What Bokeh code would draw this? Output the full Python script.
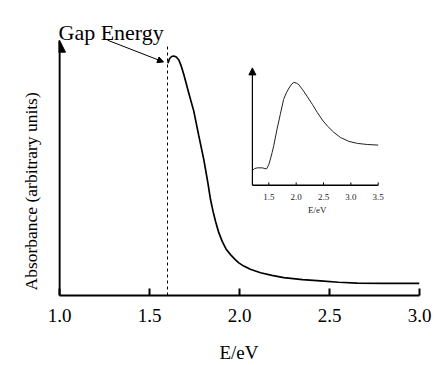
from bokeh.plotting import figure
from bokeh.models import Range1d, Arrow, NormalHead, FixedTicker, Title
from bokeh.core.properties import value
from bokeh.embed import file_html
from bokeh.resources import INLINE

# ---- data ----
main_energy = [1.602, 1.612, 1.623, 1.635, 1.649, 1.663, 1.677, 1.691, 1.718, 1.746,
               1.774, 1.802, 1.825, 1.839, 1.853, 1.867, 1.885, 1.904, 1.925, 1.950,
               1.975, 1.996, 2.024, 2.060, 2.117, 2.180, 2.246, 2.350, 2.450, 2.550,
               2.654, 2.800, 3.000]
main_absorbance = [234.7, 239.5, 241.5, 242.0, 241.0, 238.0, 231.5, 223.0, 204.7, 186.3,
                   161.3, 137.0, 113.0, 97.0, 85.0, 74.7, 63.5, 54.7, 47.0, 41.3,
                   36.5, 33.0, 29.7, 26.5, 23.0, 20.3, 18.0, 16.0, 14.7, 13.4,
                   12.6, 12.3, 12.3]

inset_energy = [1.20, 1.24, 1.29, 1.38, 1.43, 1.46, 1.50, 1.53, 1.56, 1.59,
                1.65, 1.71, 1.77, 1.82, 1.87, 1.92, 1.96, 2.00, 2.05, 2.12,
                2.20, 2.30, 2.39, 2.48, 2.57, 2.69, 2.81, 2.96, 3.12, 3.30, 3.50]
inset_absorbance = [15.0, 17.0, 17.7, 17.7, 17.0, 16.7, 21.0, 26.7, 33.0, 40.0,
                    56.7, 71.7, 86.7, 93.5, 98.4, 102.5, 104.0, 103.5, 101.7, 96.5,
                    90.0, 81.5, 73.4, 66.0, 60.0, 53.5, 48.4, 44.5, 42.4, 41.3, 40.7]

main_ticks = [1.0, 1.5, 2.0, 2.5, 3.0]
main_tick_labels = ["1.0", "1.5", "2.0", "2.5", "3.0"]
inset_ticks = [1.5, 2.0, 2.5, 3.0, 3.5]
inset_tick_labels = ["1.5", "2.0", "2.5", "3.0", "3.5"]
gap_energy = 1.6

FONT = "'Liberation Serif', 'Times New Roman', serif"

p = figure(width=435, height=365,
           x_range=Range1d(1.0 - 1.0 / 180, 3.0), y_range=Range1d(0, 288),
           output_backend="svg", toolbar_location=None,
           min_border_left=58, min_border_right=16,
           min_border_top=10, min_border_bottom=67)
p.grid.visible = False
p.outline_line_color = None
p.background_fill_color = "white"
p.border_fill_color = "white"

# x axis
xa = p.xaxis[0]
xa.ticker = FixedTicker(ticks=main_ticks)
xa.major_label_overrides = dict(zip(main_ticks, main_tick_labels))
xa.bounds = (1.0, 3.0)
xa.axis_line_width = 2
xa.axis_line_color = "black"
xa.major_tick_in = 7
xa.major_tick_out = 0
xa.major_tick_line_width = 2
xa.minor_tick_line_color = None
xa.major_label_text_font = FONT
xa.major_label_text_font_size = "19px"
xa.major_label_text_color = "black"
xa.major_label_standoff = 13
xa.axis_label = "E/eV"
xa.axis_label_text_font = FONT
xa.axis_label_text_font_size = "19px"
xa.axis_label_text_font_style = "normal"
xa.axis_label_text_color = "black"
xa.axis_label_standoff = 17

# y axis: hidden (line drawn as arrow), label drawn as a side title
p.yaxis.visible = False
p.add_layout(Title(text="Absorbance (arbitrary units)", align="left", offset=5,
                   standoff=36, text_font=FONT, text_font_size="17.5px",
                   text_font_style="normal", text_color="black"), "left")

# main curve
p.line(main_energy, main_absorbance, line_color="black", line_width=1.7)

# gap energy dashed line
p.segment(x0=[gap_energy], y0=[0], x1=[gap_energy], y1=[253],
          line_color="black", line_width=1, line_dash="3 3")

# main y-axis arrow
p.add_layout(Arrow(end=NormalHead(size=12, fill_color="black", line_color="black", line_width=1),
                   x_start=1.0, y_start=0, x_end=1.0, y_end=258,
                   line_width=2.2, line_color="black"))

# Gap Energy annotation
p.text(x=[1.0 - 1.0 / 180], y=[266], text=["Gap Energy"], text_font=value(FONT),
       text_font_size="22px", text_align="left", text_baseline="alphabetic",
       text_color="black")
p.add_layout(Arrow(end=NormalHead(size=6, fill_color="black", line_color="black", line_width=1),
                   x_start=1.267, y_start=258, x_end=1.578, y_end=236,
                   line_width=1, line_color="black"))

# ---- inset ----
p.extra_x_ranges = {"inset": Range1d(-2.345, 4.255)}
p.extra_y_ranges = {"inset": Range1d(-111.3, 176.7)}

p.line(inset_energy, inset_absorbance, x_range_name="inset", y_range_name="inset",
       line_color="#222222", line_width=1)
p.segment(x0=[1.2], y0=[0], x1=[3.5], y1=[0], x_range_name="inset", y_range_name="inset",
          line_color="black", line_width=1.5)
p.segment(x0=inset_ticks, y0=[0] * len(inset_ticks), x1=inset_ticks, y1=[3] * len(inset_ticks),
          x_range_name="inset", y_range_name="inset", line_color="black", line_width=1)
p.add_layout(Arrow(end=NormalHead(size=7, fill_color="black", line_color="black", line_width=1),
                   x_start=1.2, y_start=0, x_end=1.2, y_end=118.7,
                   x_range_name="inset", y_range_name="inset",
                   line_width=1.2, line_color="black"))
p.text(x=inset_ticks, y=[-11.3] * len(inset_ticks), text=inset_tick_labels,
       x_range_name="inset", y_range_name="inset", text_font=value(FONT),
       text_font_size="9px", text_align="center", text_baseline="middle", text_color="#222222")
p.text(x=[2.385], y=[-25], text=["E/eV"], x_range_name="inset", y_range_name="inset",
       text_font=value(FONT), text_font_size="9px", text_align="center",
       text_baseline="middle", text_color="#222222")

open("out.html", "w").write(file_html(p, INLINE))
